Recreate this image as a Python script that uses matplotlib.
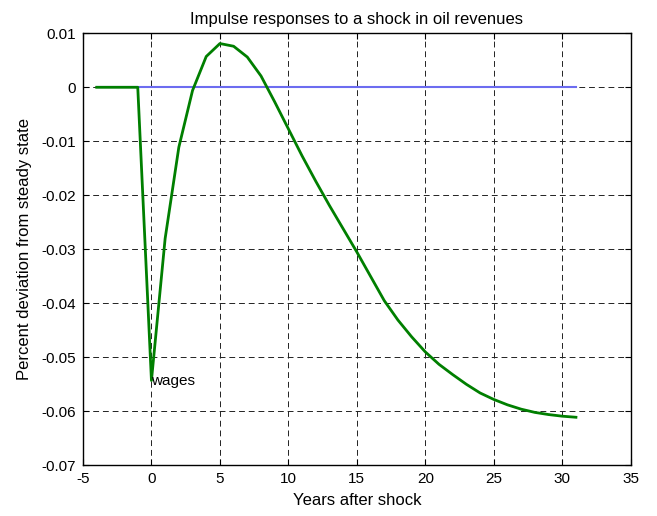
import matplotlib
matplotlib.use("Agg")
import matplotlib.pyplot as plt

years = list(range(-4, 32))
wages = [0.0, 0.0, 0.0, 0.0,
         -0.0543, -0.0280, -0.0111, -0.0006, 0.0057, 0.0081, 0.0076, 0.0056, 0.0021,
         -0.0027, -0.0077, -0.0127, -0.0174, -0.0219, -0.0262, -0.0305, -0.0350,
         -0.0395, -0.0431, -0.0462, -0.0490, -0.0513, -0.0532, -0.0550, -0.0566,
         -0.0578, -0.0588, -0.0596, -0.0602, -0.0606, -0.0609, -0.0611]
steady = [0.0] * len(years)

xticks = list(range(-5, 36, 5))
yticks = [-0.07, -0.06, -0.05, -0.04, -0.03, -0.02, -0.01, 0, 0.01]
ytick_labels = ["-0.07", "-0.06", "-0.05", "-0.04", "-0.03", "-0.02", "-0.01", "0", "0.01"]

plt.rcParams['font.family'] = ['Liberation Sans', 'DejaVu Sans']
fig = plt.figure(figsize=(6.57, 5.16), dpi=100)
ax = fig.add_axes([0.1263, 0.0982, 0.8337, 0.8373])

ax.plot(years, steady, color='#6c6cf0', linewidth=1.5, zorder=2)
ax.plot(years, wages, color='#007f00', linewidth=2.0, zorder=3)
ax.text(years[4], wages[4], "wages", fontsize=11, ha='left', va='center', zorder=4)

ax.set_xlim(-5, 35)
ax.set_ylim(-0.07, 0.01)
ax.set_xticks(xticks)
ax.set_xticklabels([str(t) for t in xticks])
ax.set_yticks(yticks)
ax.set_yticklabels(ytick_labels)
ax.tick_params(direction='in', top=True, right=True, labelsize=11, length=4, width=0.8, pad=5)
ax.grid(True, color='#222222', linestyle=(0, (6, 4)), linewidth=0.7)
for s in ax.spines.values():
    s.set_linewidth(1.0)

ax.set_title("Impulse responses to a shock in oil revenues", fontsize=12, pad=7)
ax.set_xlabel("Years after shock", fontsize=12, labelpad=5)
ax.set_ylabel("Percent deviation from steady state", fontsize=12, labelpad=7)

fig.savefig("out.png", dpi=100)
